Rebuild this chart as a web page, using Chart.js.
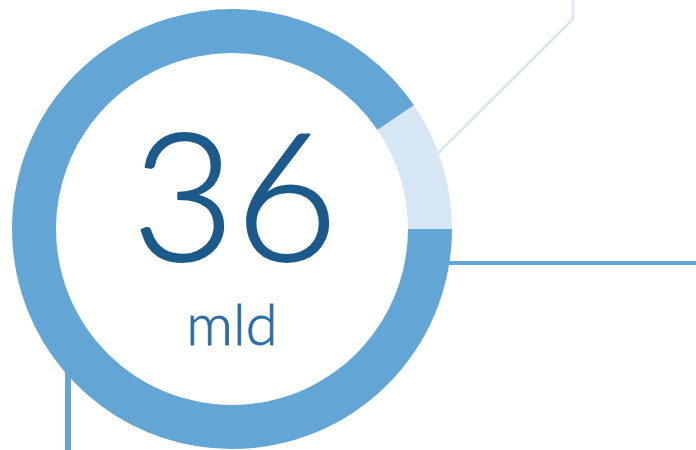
<!DOCTYPE html>
<html>
<head>
<meta charset="utf-8">
<script src="https://cdn.jsdelivr.net/npm/chart.js@4/dist/chart.umd.min.js"></script>
<style>
  html, body { margin: 0; padding: 0; background: #fff; }
  #wrap { width: 696px; height: 450px; position: relative; }
</style>
</head>
<body>
<div id="wrap"><canvas id="myChart"></canvas></div>
<script>
// waarden
const labels = ['deel', 'rest'];
const values = [90.5, 9.5];
const colors = ['#63a6d5', '#d6e6f4'];
const bigNumber = '36';
const unit = 'mld';

// lijnen rond de ring tekenen, en de tekst in het midden
const decoPlugin = {
    id: 'deco',
    beforeDatasetsDraw(chart) {
        const ctx = chart.ctx;
        ctx.save();
        ctx.lineCap = 'butt';
        ctx.strokeStyle = '#d6e6f4';
        ctx.lineWidth = 2.5;
        ctx.beginPath();
        ctx.moveTo(420, 171);
        ctx.lineTo(573, 19);
        ctx.lineTo(573, 0);
        ctx.stroke();

        ctx.strokeStyle = '#63a6d5';
        ctx.lineWidth = 4;
        ctx.beginPath();
        ctx.moveTo(430, 263);
        ctx.lineTo(696, 263);
        ctx.stroke();

        ctx.lineWidth = 6;
        ctx.beginPath();
        ctx.moveTo(68, 340);
        ctx.lineTo(68, 450);
        ctx.stroke();
        ctx.restore();
    },
    afterDraw(chart) {
        const ctx = chart.ctx;
        ctx.save();
        ctx.textAlign = 'center';
        ctx.textBaseline = 'alphabetic';
        ctx.lineJoin = 'round';
        // groot getal, iets dikker gemaakt met een dunne rand
        ctx.fillStyle = '#1b5a8b';
        ctx.strokeStyle = '#1b5a8b';
        ctx.lineWidth = 2;
        ctx.font = '300 178px Lato';
        ctx.fillText(bigNumber, 235, 261);
        ctx.strokeText(bigNumber, 235, 261);
        ctx.fillStyle = '#2c6da9';
        ctx.strokeStyle = '#2c6da9';
        ctx.lineWidth = 0.8;
        ctx.font = '300 58px Lato';
        ctx.fillText(unit, 232, 345);
        ctx.strokeText(unit, 232, 345);
        ctx.restore();
    }
};

new Chart(document.getElementById('myChart'), {
    type: 'doughnut',
    data: {
        labels: labels,
        datasets: [{
            data: values,
            backgroundColor: colors,
            borderWidth: 0
        }]
    },
    options: {
        responsive: true,
        maintainAspectRatio: false,
        animation: false,
        rotation: 90,
        cutout: '80%',
        layout: { padding: { left: 12, right: 244, top: 9, bottom: 1 } },
        plugins: {
            legend: { display: false },
            tooltip: { enabled: false }
        }
    },
    plugins: [decoPlugin]
});
</script>
</body>
</html>
